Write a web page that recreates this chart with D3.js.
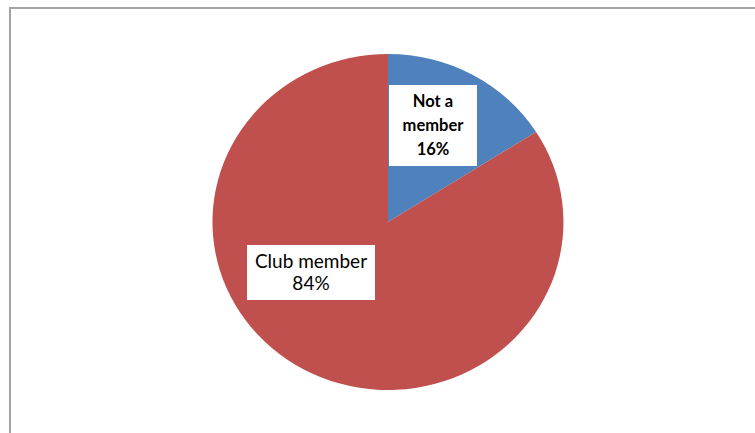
<!DOCTYPE html>
<html>
<head>
<meta charset="utf-8">
<script src="https://cdn.jsdelivr.net/npm/d3@7/dist/d3.min.js"></script>
<style>
  html, body { margin: 0; padding: 0; background: #fff; }
  svg { display: block; }
</style>
</head>
<body>
<svg id="chart" width="755" height="433"></svg>
<script>
// Data
const categories = ["Not a member", "Club member"];
const values = [16, 84];
const labelLines = [["Not a", "member", "16%"], ["Club member", "84%"]];
const colors = ["#4F81BD", "#C0504D"];

// Layout
const W = 755, H = 433;
const cx = 388, cy = 222, rx = 175.5, ry = 168;
const labelBoxes = [
  { x: 389, y: 85, w: 88, h: 81, lineH: 24, size: 16.5, weight: "bold" },
  { x: 247, y: 245, w: 128, h: 55, lineH: 22, size: 19, weight: "normal" }
];

const svg = d3.select("#chart");
svg.append("rect").attr("width", W).attr("height", H).attr("fill", "#fff");

// chart frame
svg.append("rect")
  .attr("x", 10).attr("y", 8).attr("width", 800).attr("height", 500)
  .attr("fill", "none").attr("stroke", "#a3a3a3").attr("stroke-width", 2);

const pie = d3.pie().sort(null).value(d => d)(values);
const arc = d3.arc().innerRadius(0).outerRadius(1);

const g = svg.append("g")
  .attr("transform", `translate(${cx},${cy}) scale(${rx},${ry})`);
g.selectAll("path").data(pie).enter().append("path")
  .attr("d", arc)
  .attr("fill", (d, i) => colors[i]);

// labels
labelBoxes.forEach((b, i) => {
  const lg = svg.append("g");
  lg.append("rect").attr("x", b.x).attr("y", b.y).attr("width", b.w).attr("height", b.h)
    .attr("fill", "#fff");
  const lines = labelLines[i];
  const midY = b.y + b.h / 2;
  lines.forEach((t, j) => {
    lg.append("text")
      .attr("x", b.x + b.w / 2)
      .attr("y", midY + (j - (lines.length - 1) / 2) * b.lineH)
      .attr("dy", "0.35em")
      .attr("text-anchor", "middle")
      .attr("font-family", "Lato, 'Open Sans', sans-serif")
      .attr("font-size", b.size)
      .attr("font-weight", b.weight)
      .attr("fill", "#000")
      .text(t);
  });
});
</script>
</body>
</html>
